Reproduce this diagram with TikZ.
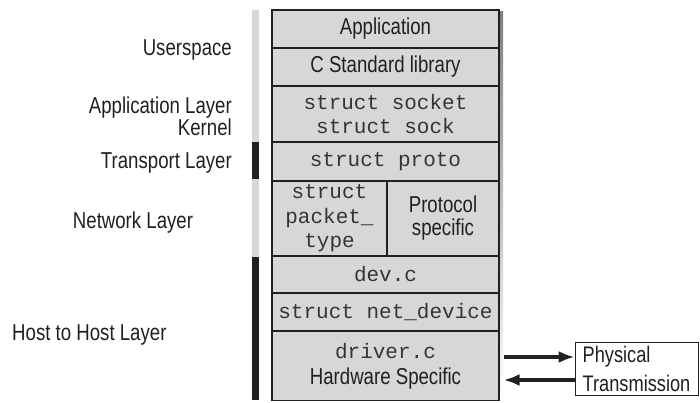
\documentclass[tikz,border=0pt]{standalone}
\usepackage{fontspec}
\setmainfont{Liberation Sans}[FakeStretch=0.81]
\setmonofont{Liberation Mono}
\usetikzlibrary{arrows.meta}
\definecolor{boxfill}{RGB}{215,215,215}
\definecolor{barlight}{RGB}{216,216,216}
\definecolor{bardark}{RGB}{35,31,32}
\definecolor{shade}{RGB}{140,140,140}
\definecolor{txt}{RGB}{35,31,32}
\definecolor{monotxt}{RGB}{55,52,53}
\tikzset{
  x=1pt,y=-1pt,
  row/.style={draw=txt,line width=1.1pt,fill=boxfill,minimum width=227pt,inner sep=0pt,align=center,text=txt},
  mono/.style={font=\ttfamily\fontsize{21}{24.5}\selectfont,text=monotxt},
  sans/.style={font=\fontsize{23}{23}\selectfont},
  lab/.style={font=\fontsize{23}{22}\selectfont,text=txt,inner sep=0pt},
  arr/.style={line width=3.4pt,draw=txt,-{Latex[length=16pt,width=12pt]}},
}
\begin{document}
\begin{tikzpicture}
\useasboundingbox (0,0) rectangle (700,403);
% shadow strip
\fill[shade] (499,12) rectangle (503,400);
% left bar
\fill[barlight] (252,10) rectangle (259,142);
\fill[bardark] (252,142) rectangle (259,179);
\fill[barlight] (252,179) rectangle (259,257);
\fill[bardark] (252,257) rectangle (259,400);
% rows
\node[row,sans,minimum height=38pt] (app) at (385.5,29) {Application};
\node[row,sans,minimum height=38pt] (clib) at (385.5,67) {C Standard library};
\node[row,mono,minimum height=56pt] (sock) at (385.5,114) {struct socket\\struct sock};
\node[row,mono,minimum height=39pt] (proto) at (385.5,161.5) {struct proto};
\node[row,mono,minimum width=115pt,minimum height=75pt] (ptype) at (329.5,218.5) {struct\\packet\_\\type};
\node[row,sans,minimum width=112pt,minimum height=75pt] (pspec) at (443,218.5) {Protocol\\specific};
\node[row,mono,minimum height=37pt] (dev) at (385.5,274.5) {dev.c};
\node[row,mono,minimum height=38pt] (netdev) at (385.5,312) {struct net\_device};
\node[row,minimum height=69pt,font=\fontsize{23}{26}\selectfont] (driver) at (385.5,366) {{\color{monotxt}\ttfamily\fontsize{21}{26}\selectfont driver.c}\\Hardware Specific};
% left labels
\node[lab,anchor=east] (user) at (232,50) {Userspace};
\node[lab,anchor=east,align=right] (applayer) at (232,116) {Application Layer\\Kernel};
\node[lab,anchor=east] (trans) at (232,163) {Transport Layer};
\node[lab] (net) at (133,223) {Network Layer};
\node[lab,anchor=west] (host) at (12,335) {Host to Host Layer};
% physical transmission
\node[draw=txt,line width=0.8pt,fill=white,minimum width=123pt,minimum height=53pt,inner sep=2pt,align=left,text=txt,font=\fontsize{22.5}{29}\selectfont] (phys) at (636.5,368.5) {Physical\\Transmission};
% arrows
\draw[arr] ([xshift=4pt,yshift=9pt]driver.east) -- ([yshift=11.5pt]phys.west);
\draw[arr] ([yshift=-11.5pt]phys.west) -- ([xshift=4pt,yshift=-14pt]driver.east);
\end{tikzpicture}
\end{document}
